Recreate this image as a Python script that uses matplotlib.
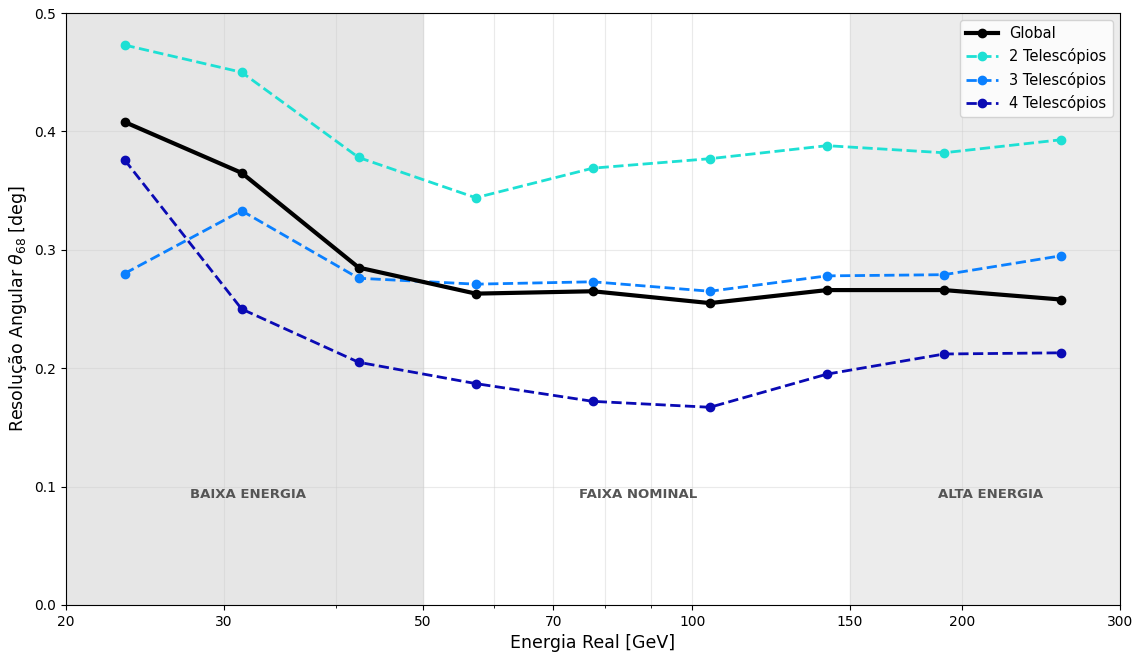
import numpy as np
import matplotlib
matplotlib.use("Agg")
import matplotlib.pyplot as plt
from matplotlib.ticker import FixedLocator, NullFormatter

# Centros dos bins de energia [GeV]
energia = [23.25, 31.41, 42.43, 57.33, 77.45, 104.64, 141.37, 191.00, 258.05]

# Resolução angular theta68 [deg]
res_global = [0.408, 0.365, 0.285, 0.263, 0.265, 0.255, 0.266, 0.266, 0.258]
res_2tel = [0.473, 0.450, 0.378, 0.344, 0.369, 0.377, 0.388, 0.382, 0.393]
res_3tel = [0.280, 0.333, 0.276, 0.271, 0.273, 0.265, 0.278, 0.279, 0.295]
res_4tel = [0.376, 0.250, 0.205, 0.187, 0.172, 0.167, 0.195, 0.212, 0.213]

xticks = [20, 30, 50, 70, 100, 150, 200, 300]

# faixas: (inicio, fim, rotulo, posicao x do rotulo)
faixas = [(20, 50, "BAIXA ENERGIA", 31.9),
          (50, 150, "FAIXA NOMINAL", 87.0),
          (150, 300, "ALTA ENERGIA", 215.5)]

fig, ax = plt.subplots(figsize=(11.38, 6.54), dpi=100)
fig.subplots_adjust(left=0.058, right=0.984, top=0.980, bottom=0.075)

ax.axvspan(20, 50, color="#e6e6e6", zorder=0)
ax.axvspan(150, 300, color="#ececec", zorder=0)

ax.plot(energia, res_global, "-o", color="black", lw=3, ms=6, label="Global", zorder=5)
ax.plot(energia, res_2tel, "--o", color="#1de0d4", lw=2, ms=6, label="2 Telescópios", zorder=4)
ax.plot(energia, res_3tel, "--o", color="#0a80ff", lw=2, ms=6, label="3 Telescópios", zorder=4)
ax.plot(energia, res_4tel, "--o", color="#0a0ab4", lw=2, ms=6, label="4 Telescópios", zorder=4)

ax.set_xscale("log")
ax.set_xlim(20, 300)
ax.set_ylim(0, 0.5)
ax.set_xticks(xticks)
ax.set_xticklabels([str(t) for t in xticks])
ax.xaxis.set_minor_locator(FixedLocator([40, 60, 80, 90]))
ax.xaxis.set_minor_formatter(NullFormatter())
ax.grid(True, which="both", color="#cccccc", alpha=0.4, lw=0.8)

for ini, fim, rotulo, xpos in faixas:
    ax.text(xpos, 0.0935, rotulo, ha="center", va="center",
            fontsize=9.5, fontweight="bold", color="#555555")

ax.set_xlabel("Energia Real [GeV]", fontsize=12.5)
ax.set_ylabel(r"Resolução Angular $\theta_{68}$ [deg]", fontsize=12.5)
ax.legend(loc="upper right", fontsize=10.5, handlelength=2.2)

fig.savefig("out.png", dpi=100)
